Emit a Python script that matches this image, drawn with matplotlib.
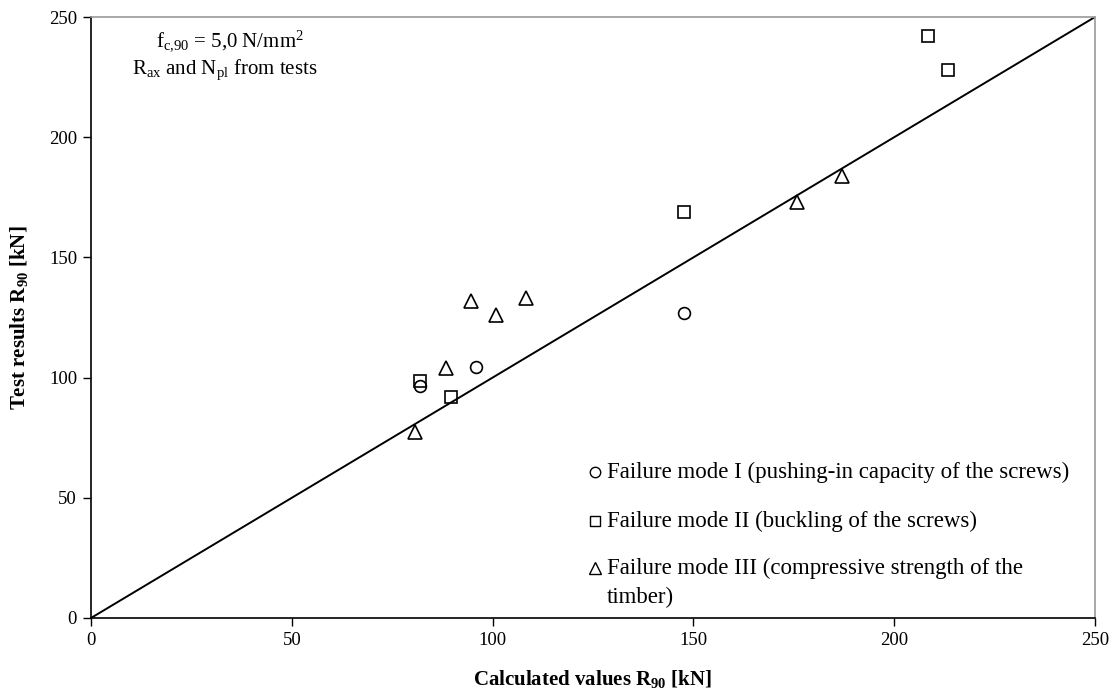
import matplotlib
matplotlib.use("Agg")
import matplotlib.pyplot as plt

plt.rcParams['font.family'] = ['Liberation Serif', 'DejaVu Serif']
plt.rcParams['mathtext.fontset'] = 'custom'
plt.rcParams['mathtext.rm'] = 'Liberation Serif'
plt.rcParams['mathtext.it'] = 'Liberation Serif:italic'
plt.rcParams['mathtext.bf'] = 'Liberation Serif:bold'

# Data
mode1_x = [81.8, 95.9, 147.7]
mode1_y = [96.5, 104.5, 127.0]
mode2_x = [81.8, 89.6, 147.7, 208.5, 213.5]
mode2_y = [98.5, 92.0, 169.0, 242.0, 228.0]
mode3_x = [80.8, 88.3, 94.6, 100.8, 108.3, 175.8, 187.0]
mode3_y = [77.5, 104.0, 132.0, 126.0, 133.0, 173.0, 184.0]
ref_line = [0, 250]
ticks = [0, 50, 100, 150, 200, 250]
legend_labels = ["Failure mode I (pushing-in capacity of the screws)",
                 "Failure mode II (buckling of the screws)",
                 "Failure mode III (compressive strength of the"]
legend_cont = "timber)"

fig = plt.figure(figsize=(11.17, 6.97), dpi=100)
ax = fig.add_axes([91/1117, 79/697, (1095-91)/1117, (618-17)/697])

ax.plot(ref_line, ref_line, color='black', lw=1.4, zorder=2)
mk = dict(linestyle='none', markerfacecolor='none', markeredgecolor='black',
          markeredgewidth=1.2, zorder=3)
ax.plot(mode1_x, mode1_y, marker='o', markersize=8.5, **mk)
ax.plot(mode2_x, mode2_y, marker='s', markersize=8.5, **mk)
ax.plot(mode3_x, mode3_y, marker='^', markersize=9.5, **mk)

ax.set_xlim(0, 250)
ax.set_ylim(0, 250)
ax.set_xticks(ticks)
ax.set_yticks(ticks)
ax.tick_params(direction='out', length=6, width=1, labelsize=13.5, colors='black', pad=4)
for s in ['left', 'bottom']:
    ax.spines[s].set_color('black')
    ax.spines[s].set_linewidth(1.2)
for s in ['top', 'right']:
    ax.spines[s].set_color('#999999')
    ax.spines[s].set_linewidth(1.2)

ax.set_xlabel(r"Calculated values R$_{\mathbf{90}}$ [kN]", fontsize=15, fontweight='bold', labelpad=14)
ax.set_ylabel(r"Test results R$_{\mathbf{90}}$ [kN]", fontsize=15, fontweight='bold', labelpad=14)

ax.text(34.5, 240, r"f$_{\mathrm{c{,}90}}$ = 5,0 N/mm$^{2}$", fontsize=15, ha='center', va='center')
ax.text(33.4, 228, r"R$_{\mathrm{ax}}$ and N$_{\mathrm{pl}}$ from tests", fontsize=15, ha='center', va='center')

# legend (manual)
markers = ['o', 's', '^']
sizes = [7.5, 7.5, 8]
ys = [0.2429, 0.1614, 0.0832]
for m, s, yy, lab in zip(markers, sizes, ys, legend_labels):
    ax.plot([0.502], [yy], transform=ax.transAxes, marker=m, markersize=s,
            linestyle='none', markerfacecolor='none', markeredgecolor='black',
            markeredgewidth=1.0, clip_on=False)
    ax.text(0.514, yy, lab, transform=ax.transAxes, fontsize=16.5, ha='left', va='center')
ax.text(0.514, 0.0349, legend_cont, transform=ax.transAxes, fontsize=16.5, ha='left', va='center')

fig.savefig("out.png", dpi=100)
